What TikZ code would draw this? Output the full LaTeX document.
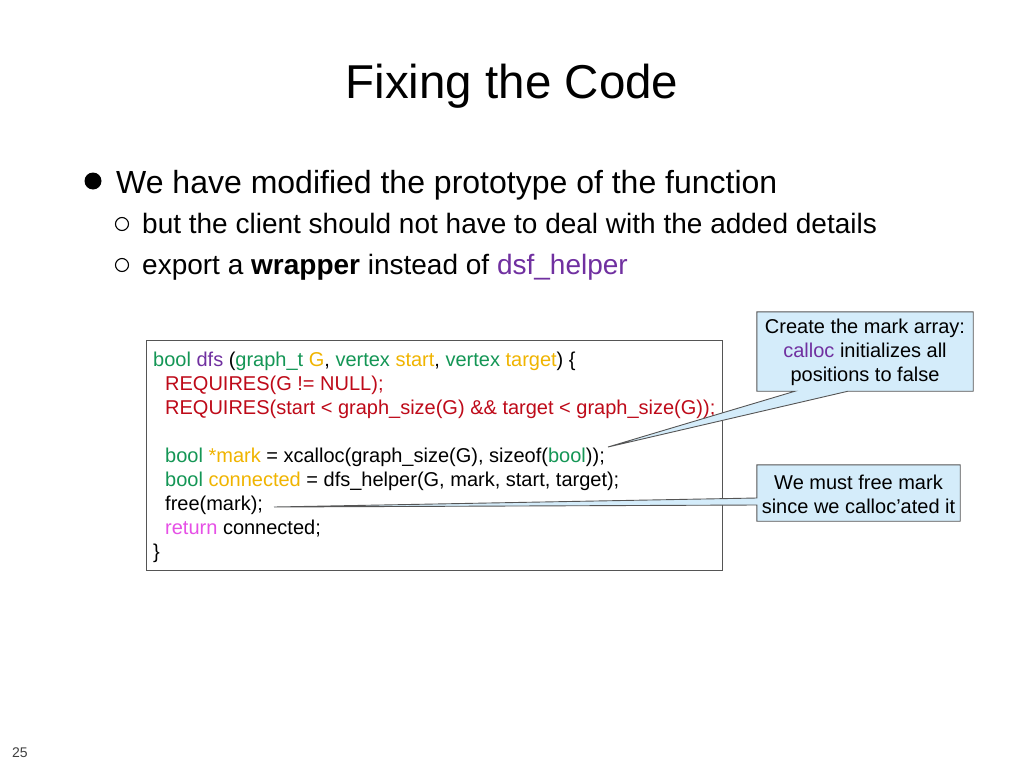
\documentclass[tikz,border=0pt]{standalone}
\usepackage{fontspec}
\setmainfont{Liberation Sans}
\definecolor{cgreen}{RGB}{20,150,85}
\definecolor{cpurple}{RGB}{112,48,160}
\definecolor{cgold}{RGB}{240,180,0}
\definecolor{cred}{RGB}{190,10,25}
\definecolor{cpink}{RGB}{230,80,230}
\definecolor{cfill}{RGB}{212,236,250}
\definecolor{cborder}{RGB}{85,85,85}
\newcommand\cgr[1]{\textcolor{cgreen}{#1}}
\newcommand\cpu[1]{\textcolor{cpurple}{#1}}
\newcommand\cyl[1]{\textcolor{cgold}{#1}}
\newcommand\cre[1]{\textcolor{cred}{#1}}
\newcommand\cpk[1]{\textcolor{cpink}{#1}}
\begin{document}
\begin{tikzpicture}[x=1pt,y=-1pt,
  txt/.style={inner sep=0pt,anchor=base west},
  codeline/.style={txt,font=\fontsize{20}{24}\selectfont},
  calltext/.style={inner sep=0pt,align=center,font=\fontsize{20}{24}\selectfont},
  callout/.style={fill=cfill,draw=cborder,line width=0.9pt}]
\useasboundingbox (0,0) rectangle (1024,768);
% title
\node[inner sep=0pt,anchor=base] (title) at (512,98) {\fontsize{47.5}{50}\selectfont Fixing the Code};
% bullets
\fill (93,181) circle (8.5);
\node[txt,font=\fontsize{32}{36}\selectfont] (b1) at (116,193) {We have modified the prototype of the function};
\draw[line width=1.1pt] (122,224) circle (6.5);
\node[txt,font=\fontsize{28}{32}\selectfont] (s1) at (142,233) {but the client should not have to deal with the added details};
\draw[line width=1.1pt] (122,265) circle (6.5);
\node[txt,font=\fontsize{28}{32}\selectfont] (s2) at (142,274) {export a \textbf{wrapper} instead of \cpu{dsf\_helper}};
% code box
\draw[cborder,line width=0.9pt,fill=white] (146,340) rectangle (722,570);
\node[codeline] (c1) at (153,366) {\cgr{bool} \cpu{dfs} (\cgr{graph\_t} \cyl{G}, \cgr{vertex} \cyl{start}, \cgr{vertex} \cyl{target}) \{};
\node[codeline] (c2) at (165,390) {\cre{REQUIRES(G != NULL);}};
\node[codeline] (c3) at (165,414) {\cre{REQUIRES(start < graph\_size(G) \&\& target < graph\_size(G));}};
\node[codeline] (c4) at (165,462) {\cgr{bool} \cyl{*mark} = xcalloc(graph\_size(G), sizeof(\cgr{bool}));};
\node[codeline] (c5) at (165,486) {\cgr{bool} \cyl{connected} = dfs\_helper(G, mark, start, target);};
\node[codeline] (c6) at (165,510) {free(mark);};
\node[codeline] (c7) at (165,534) {\cpk{return} connected;};
\node[codeline] (c8) at (153,558) {\}};
% callout 1
\coordinate (t1) at (608,447);
\node[minimum width=216pt,minimum height=79pt,inner sep=0pt] (k1) at (865,351.5) {};
\draw[callout] (k1.north west) -- (k1.north east) -- (k1.south east)
  -- ([xshift=-17pt]k1.south) -- (t1) -- ([xshift=-70pt]k1.south) -- (k1.south west) -- cycle;
\node[calltext] (k1t) at ([yshift=-1pt]k1) {Create the mark array:\\ \cpu{calloc} initializes all\\ positions to false};
% callout 2
\coordinate (t2) at (274,507);
\node[minimum width=203pt,minimum height=56pt,inner sep=0pt] (k2) at (858.5,493) {};
\draw[callout] (k2.north west) -- (k2.north east) -- (k2.south east) -- (k2.south west)
  -- ([yshift=-12pt]k2.west) -- (t2) -- ([yshift=-5pt]k2.west) -- cycle;
\node[calltext] (k2t) at ([yshift=-1pt]k2) {We must free mark\\ since we calloc’ated it};
% page number
\node[txt,font=\fontsize{14}{16}\selectfont,text=black!75] (pg) at (12,757) {25};
\end{tikzpicture}
\end{document}
